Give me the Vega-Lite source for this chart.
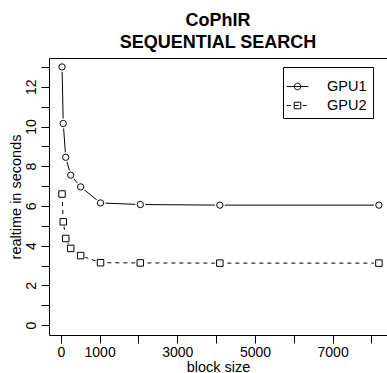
{
  "$schema": "https://vega.github.io/schema/vega-lite/v6.json",
  "width": 338,
  "height": 277,
  "autosize": {"type": "none"},
  "padding": {"left": 49, "top": 58, "right": 0, "bottom": 38},
  "background": "white",
  "config": {
    "font": "Liberation Sans",
    "view": {"stroke": null},
    "axis": {
      "grid": false,
      "domainColor": "black",
      "domainWidth": 1,
      "tickColor": "black",
      "tickWidth": 1,
      "tickSize": 8,
      "labelColor": "black",
      "labelFontSize": 14,
      "titleColor": "black",
      "titleFontSize": 14.5,
      "titleFontWeight": "normal"
    }
  },
  "title": {
    "text": ["CoPhIR", "SEQUENTIAL SEARCH"],
    "fontSize": 18,
    "fontWeight": "bold",
    "lineHeight": 22,
    "offset": 6,
    "anchor": "middle",
    "frame": "group",
    "color": "black"
  },
  "data": {
    "values": [
      {"block": 32, "time": 13.0, "gpu": "GPU1"},
      {"block": 64, "time": 10.15, "gpu": "GPU1"},
      {"block": 128, "time": 8.45, "gpu": "GPU1"},
      {"block": 256, "time": 7.55, "gpu": "GPU1"},
      {"block": 512, "time": 6.96, "gpu": "GPU1"},
      {"block": 1024, "time": 6.15, "gpu": "GPU1"},
      {"block": 2048, "time": 6.07, "gpu": "GPU1"},
      {"block": 4096, "time": 6.04, "gpu": "GPU1"},
      {"block": 8192, "time": 6.04, "gpu": "GPU1"},
      {"block": 32, "time": 6.6, "gpu": "GPU2"},
      {"block": 64, "time": 5.2, "gpu": "GPU2"},
      {"block": 128, "time": 4.36, "gpu": "GPU2"},
      {"block": 256, "time": 3.86, "gpu": "GPU2"},
      {"block": 512, "time": 3.5, "gpu": "GPU2"},
      {"block": 1024, "time": 3.14, "gpu": "GPU2"},
      {"block": 2048, "time": 3.13, "gpu": "GPU2"},
      {"block": 4096, "time": 3.12, "gpu": "GPU2"},
      {"block": 8192, "time": 3.12, "gpu": "GPU2"}
    ]
  },
  "encoding": {
    "x": {
      "field": "block",
      "type": "quantitative",
      "scale": {"domain": [-303, 8400], "nice": false, "zero": false},
      "axis": null
    },
    "y": {
      "field": "time",
      "type": "quantitative",
      "scale": {"domain": [-0.5, 13.45], "nice": false, "zero": false},
      "axis": {
        "title": "realtime in seconds",
        "values": [0, 1, 2, 3, 4, 5, 6, 7, 8, 9, 10, 11, 12, 13],
        "labelExpr": "datum.value % 2 == 0 ? datum.label : ''",
        "labelAngle": -90,
        "labelAlign": "center",
        "labelBaseline": "middle",
        "labelPadding": 9.5,
        "labelOverlap": false,
        "titleX": -33,
        "titleBaseline": "middle",
        "titleAngle": -90
      }
    }
  },
  "resolve": {"axis": {"x": "independent"}},
  "layer": [
    {
      "transform": [{"filter": "datum.gpu == 'GPU1'"}],
      "mark": {"type": "line", "color": "black", "strokeWidth": 1},
      "encoding": {
        "x": {
          "field": "block",
          "type": "quantitative",
          "axis": {
            "orient": "bottom",
            "title": "block size",
            "values": [0, 1000, 2000, 3000, 4000, 5000, 6000, 7000, 8000],
            "format": "d",
            "labelExpr": "datum.value == 0 || (datum.value / 1000) % 2 == 1 ? datum.label : ''",
            "labelPadding": 2,
            "labelBaseline": "top",
            "labelFlush": false,
            "labelOverlap": false,
            "titlePadding": 1
          }
        }
      }
    },
    {
      "transform": [{"filter": "datum.gpu == 'GPU2'"}],
      "mark": {"type": "line", "color": "black", "strokeWidth": 1, "strokeDash": [4, 4]},
      "encoding": {
        "x": {
          "field": "block",
          "type": "quantitative",
          "axis": {"orient": "top", "title": null, "labels": false, "ticks": false, "domain": true}
        }
      }
    },
    {
      "mark": {"type": "point", "shape": "circle", "filled": true, "color": "white", "opacity": 1, "size": 100, "strokeWidth": 0}
    },
    {
      "mark": {"type": "point", "filled": false, "color": "black", "opacity": 0, "strokeWidth": 1, "size": 256},
      "encoding": {
        "shape": {
          "field": "gpu",
          "type": "nominal",
          "scale": {
            "domain": ["GPU1", "GPU2"],
            "range": [
              "M-1.35,0L1.35,0M-0.41,0A0.41,0.41,0,1,1,0.41,0A0.41,0.41,0,1,1,-0.41,0Z",
              "M-1.35,0L-0.85,0M-0.35,0L0.15,0M0.65,0L1.15,0M-0.41,-0.41L0.41,-0.41L0.41,0.41L-0.41,0.41Z"
            ]
          },
          "legend": {
            "orient": "none",
            "legendX": 234,
            "legendY": 9,
            "title": " ",
            "titleFontSize": 5,
            "titlePadding": 0,
            "strokeColor": "black",
            "fillColor": "white",
            "padding": 6,
            "cornerRadius": 0,
            "symbolSize": 256,
            "symbolStrokeColor": "black",
            "symbolStrokeWidth": 1,
            "symbolFillColor": "transparent",
            "symbolOpacity": 1,
            "labelOffset": 21,
            "rowPadding": 4,
            "labelFontSize": 14.5,
            "labelColor": "black"
          }
        }
      }
    },
    {
      "transform": [{"filter": "datum.gpu == 'GPU1'"}],
      "mark": {"type": "point", "shape": "circle", "filled": false, "color": "black", "opacity": 1, "strokeWidth": 1, "size": 40}
    },
    {
      "transform": [{"filter": "datum.gpu == 'GPU2'"}],
      "mark": {"type": "point", "shape": "square", "filled": false, "color": "black", "opacity": 1, "strokeWidth": 1, "size": 42}
    }
  ]
}
